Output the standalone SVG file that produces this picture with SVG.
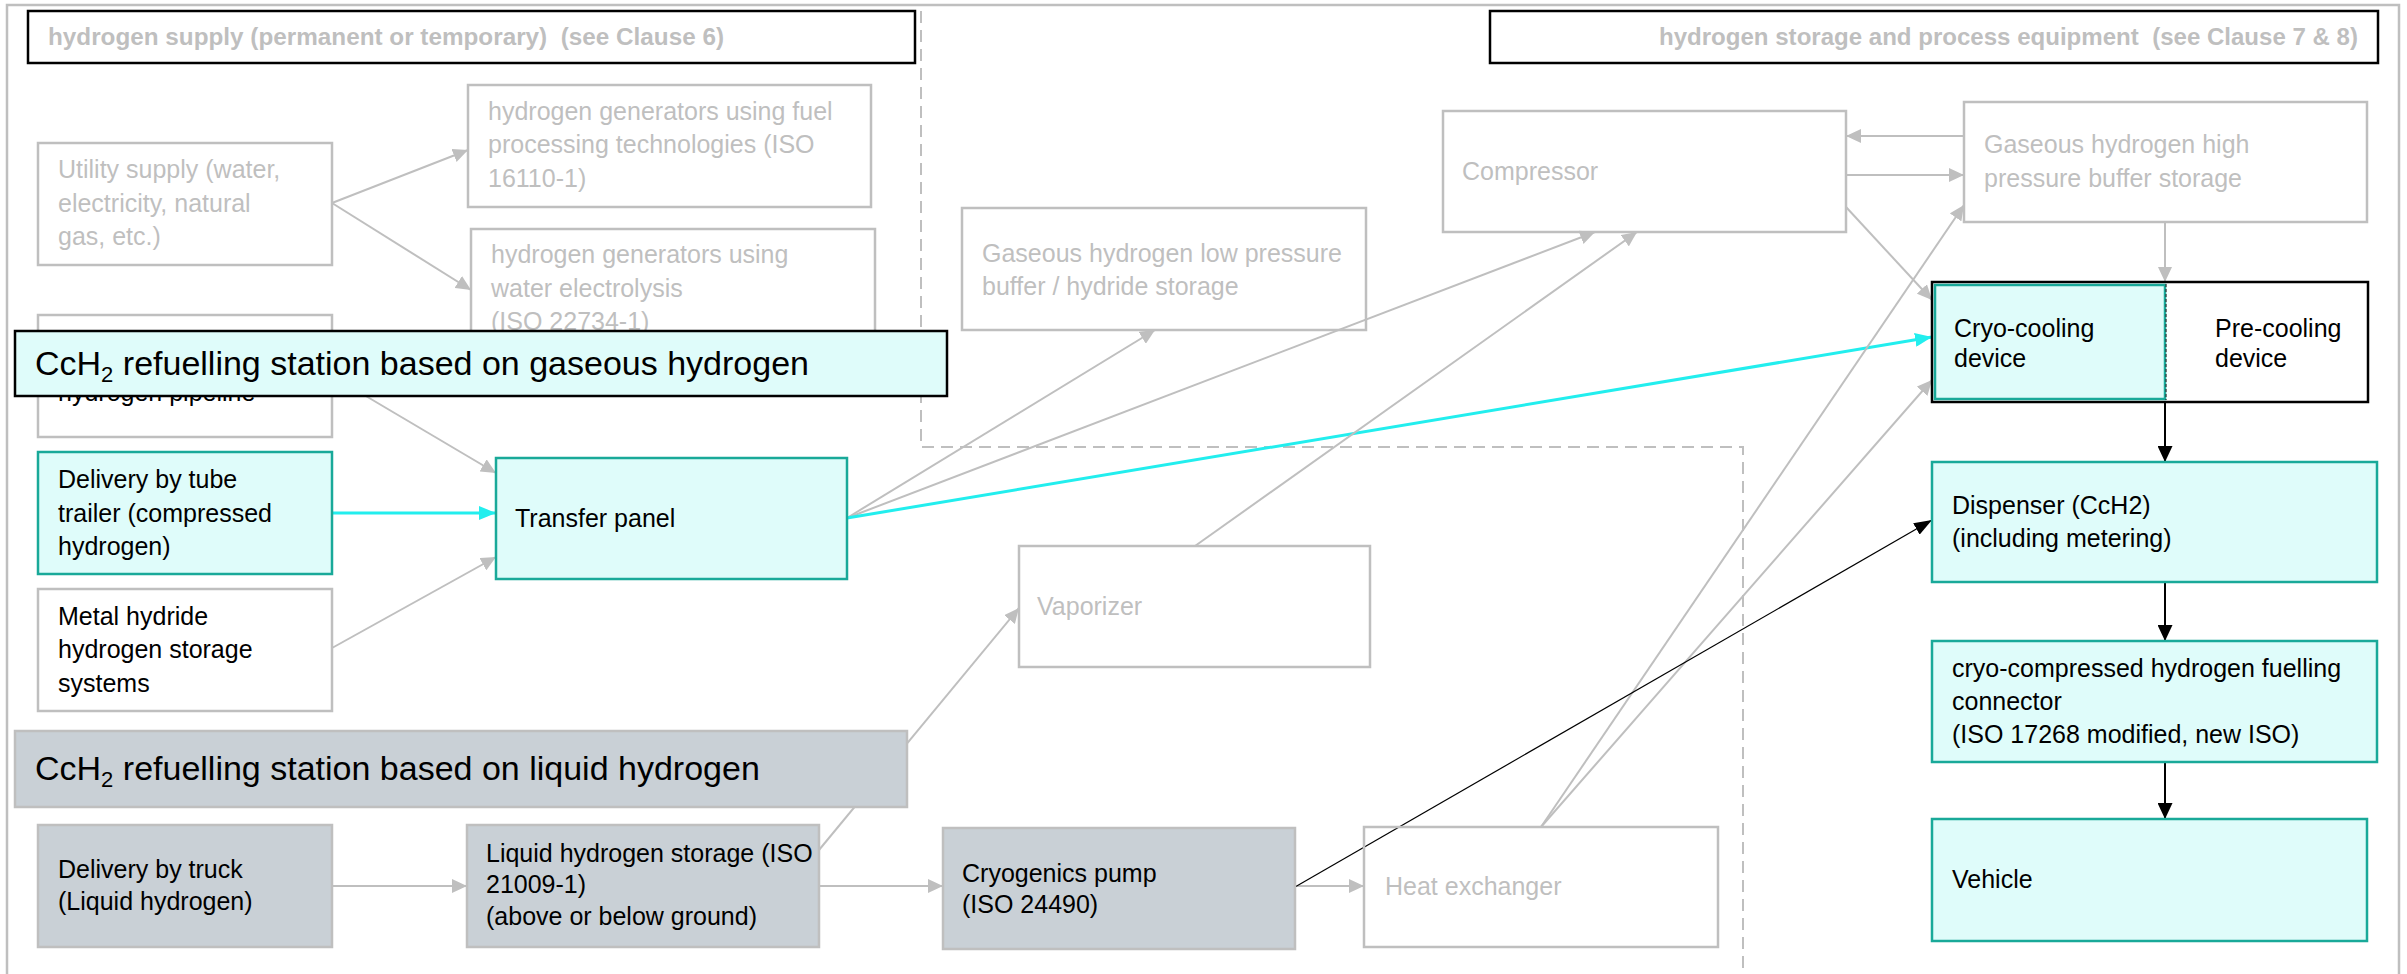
<svg xmlns="http://www.w3.org/2000/svg" width="2407" height="974" viewBox="0 0 2407 974">
<style>
text{font-family:"Liberation Sans",Arial,sans-serif;font-size:25px}
.tg{fill:#bfbfbf}
.tk{fill:#000}
.hd{font-weight:bold;font-size:23px;fill:#bfbfbf}
.bn{font-size:34px;fill:#000}
.bg{fill:none;stroke:#bfbfbf;stroke-width:2.5}
.bc{fill:#dffcfa;stroke:#19a999;stroke-width:2.5}
.bb{fill:#c9d0d6;stroke:#bfbfbf;stroke-width:2.5}
.bh{fill:#fff;stroke:#000;stroke-width:2.5}
.cg{stroke:#bfbfbf;stroke-width:2;fill:none;marker-end:url(#ag)}
.cc{stroke:#22eeee;stroke-width:3;fill:none;marker-end:url(#ac)}
.ck{stroke:#000;stroke-width:2;fill:none;marker-end:url(#ak)}
.ct{stroke:#000;stroke-width:1.2;fill:none;marker-end:url(#at)}
</style>
<defs>
<marker id="ag" markerUnits="userSpaceOnUse" markerWidth="15" markerHeight="14" refX="15" refY="7" orient="auto"><path d="M0,0 L15,7 L0,14 Z" fill="#bfbfbf"/></marker>
<marker id="ac" markerUnits="userSpaceOnUse" markerWidth="17" markerHeight="14" refX="17" refY="7" orient="auto"><path d="M0,0 L17,7 L0,14 Z" fill="#22eeee"/></marker>
<marker id="ak" markerUnits="userSpaceOnUse" markerWidth="16" markerHeight="15" refX="16" refY="7.5" orient="auto"><path d="M0,0 L16,7.5 L0,15 Z" fill="#000"/></marker>
<marker id="at" markerUnits="userSpaceOnUse" markerWidth="18" markerHeight="13" refX="18" refY="6.5" orient="auto"><path d="M0,0 L18,6.5 L0,13 Z" fill="#000"/></marker>
</defs>
<rect x="0" y="0" width="2407" height="974" fill="#fff"/>
<rect x="7" y="5" width="2392" height="1000" fill="none" stroke="#bfbfbf" stroke-width="2.5"/>
<path d="M921,11 V447 H1743 V974" fill="none" stroke="#bfbfbf" stroke-width="2" stroke-dasharray="12 7"/>

<g id="connectors">
<line class="cg" x1="332" y1="203" x2="468" y2="150"/>
<line class="cg" x1="332" y1="203" x2="471" y2="290"/>
<line class="cg" x1="332" y1="376" x2="496" y2="473"/>
<line class="cc" x1="332" y1="513" x2="496" y2="513"/>
<line class="cg" x1="332" y1="648" x2="496" y2="557"/>
<line class="cg" x1="847" y1="518" x2="1155" y2="330"/>
<line class="cg" x1="847" y1="518" x2="1595" y2="232"/>
<line class="cc" x1="847" y1="518" x2="1932" y2="337"/>
<line class="cg" x1="1195" y1="546" x2="1637" y2="232"/>
<line class="cg" x1="1964" y1="136" x2="1846" y2="136"/>
<line class="cg" x1="1846" y1="175" x2="1964" y2="175"/>
<line class="cg" x1="1846" y1="207" x2="1932" y2="300"/>
<line class="cg" x1="2165" y1="222" x2="2165" y2="282"/>
<line class="cg" x1="1541" y1="827" x2="1964" y2="205"/>
<line class="cg" x1="1541" y1="827" x2="1932" y2="380"/>
<line class="cg" x1="819" y1="850" x2="1019" y2="608"/>
<line class="cg" x1="332" y1="886" x2="467" y2="886"/>
<line class="cg" x1="819" y1="886" x2="943" y2="886"/>
<line class="cg" x1="1295" y1="886" x2="1364" y2="886"/>
<line class="ct" x1="1295" y1="887" x2="1932" y2="520"/>
<line class="ck" x1="2165" y1="402" x2="2165" y2="462"/>
<line class="ck" x1="2165" y1="582" x2="2165" y2="641"/>
<line class="ck" x1="2165" y1="762" x2="2165" y2="819"/>
</g>

<g id="header-supply">
<rect class="bh" x="28" y="11" width="887" height="52"/>
<text class="hd" x="48" y="45" textLength="676" lengthAdjust="spacingAndGlyphs" xml:space="preserve">hydrogen supply (permanent or temporary)  (see Clause 6)</text>
</g>
<g id="header-storage">
<rect class="bh" x="1490" y="11" width="888" height="52"/>
<text class="hd" x="1659" y="45" textLength="699" lengthAdjust="spacingAndGlyphs" xml:space="preserve">hydrogen storage and process equipment  (see Clause 7 &amp; 8)</text>
</g>

<g id="gen-fuel">
<rect class="bg" x="468" y="85" width="403" height="122"/>
<text class="tg" x="488" y="120">hydrogen generators using fuel</text>
<text class="tg" x="488" y="153">processing technologies (ISO</text>
<text class="tg" x="488" y="187">16110-1)</text>
</g>
<g id="utility">
<rect class="bg" x="38" y="143" width="294" height="122"/>
<text class="tg" x="58" y="178">Utility supply (water,</text>
<text class="tg" x="58" y="212">electricity, natural</text>
<text class="tg" x="58" y="245">gas, etc.)</text>
</g>
<g id="gen-electrolysis">
<rect class="bg" x="471" y="229" width="404" height="122"/>
<text class="tg" x="491" y="263">hydrogen generators using</text>
<text class="tg" x="491" y="297">water electrolysis</text>
<text class="tg" x="491" y="330">(ISO 22734-1)</text>
</g>
<g id="pipeline">
<rect class="bg" x="38" y="315" width="294" height="122"/>
<text class="tk" x="58" y="401">hydrogen pipeline</text>
</g>
<g id="banner-gaseous">
<rect x="15" y="331" width="932" height="65" fill="#dffcfa" stroke="#000" stroke-width="2.5"/>
<text class="bn" x="35" y="375">CcH<tspan font-size="22" dy="7">2</tspan><tspan dy="-7"> refuelling station based on gaseous hydrogen</tspan></text>
</g>
<g id="tube-trailer">
<rect class="bc" x="38" y="452" width="294" height="122"/>
<text class="tk" x="58" y="488">Delivery by tube</text>
<text class="tk" x="58" y="522">trailer (compressed</text>
<text class="tk" x="58" y="555">hydrogen)</text>
</g>
<g id="metal-hydride">
<rect class="bg" x="38" y="589" width="294" height="122"/>
<text class="tk" x="58" y="625">Metal hydride</text>
<text class="tk" x="58" y="658">hydrogen storage</text>
<text class="tk" x="58" y="692">systems</text>
</g>
<g id="transfer-panel">
<rect class="bc" x="496" y="458" width="351" height="121"/>
<text class="tk" x="515" y="527">Transfer panel</text>
</g>
<g id="lp-buffer">
<rect class="bg" x="962" y="208" width="404" height="122"/>
<text class="tg" x="982" y="262">Gaseous hydrogen low pressure</text>
<text class="tg" x="982" y="295">buffer / hydride storage</text>
</g>
<g id="compressor">
<rect class="bg" x="1443" y="111" width="403" height="121"/>
<text class="tg" x="1462" y="180">Compressor</text>
</g>
<g id="hp-buffer">
<rect class="bg" x="1964" y="102" width="403" height="120"/>
<text class="tg" x="1984" y="153">Gaseous hydrogen high</text>
<text class="tg" x="1984" y="187">pressure buffer storage</text>
</g>
<g id="cooling">
<rect class="bh" x="1932" y="282" width="436" height="120"/>
<rect class="bc" x="1935" y="285" width="230" height="114"/>
<line x1="2166" y1="284" x2="2166" y2="400" stroke="#333" stroke-width="1.2" stroke-dasharray="3 2"/>
<text class="tk" x="1954" y="337">Cryo-cooling</text>
<text class="tk" x="1954" y="367">device</text>
<text class="tk" x="2215" y="337">Pre-cooling</text>
<text class="tk" x="2215" y="367">device</text>
</g>
<g id="dispenser">
<rect class="bc" x="1932" y="462" width="445" height="120"/>
<text class="tk" x="1952" y="514">Dispenser (CcH2)</text>
<text class="tk" x="1952" y="547">(including metering)</text>
</g>
<g id="connector">
<rect class="bc" x="1932" y="641" width="445" height="121"/>
<text class="tk" x="1952" y="677">cryo-compressed hydrogen fuelling</text>
<text class="tk" x="1952" y="710">connector</text>
<text class="tk" x="1952" y="743">(ISO 17268 modified, new ISO)</text>
</g>
<g id="vehicle">
<rect class="bc" x="1932" y="819" width="435" height="122"/>
<text class="tk" x="1952" y="888">Vehicle</text>
</g>
<g id="vaporizer">
<rect class="bg" x="1019" y="546" width="351" height="121"/>
<text class="tg" x="1037" y="615">Vaporizer</text>
</g>
<g id="banner-liquid">
<rect x="15" y="731" width="892" height="76" fill="#c9d0d6" stroke="#bfbfbf" stroke-width="2.5"/>
<text class="bn" x="35" y="780">CcH<tspan font-size="22" dy="7">2</tspan><tspan dy="-7"> refuelling station based on liquid hydrogen</tspan></text>
</g>
<g id="truck">
<rect class="bb" x="38" y="825" width="294" height="122"/>
<text class="tk" x="58" y="878">Delivery by truck</text>
<text class="tk" x="58" y="910">(Liquid hydrogen)</text>
</g>
<g id="lh2-storage">
<rect class="bb" x="467" y="825" width="352" height="122"/>
<text class="tk" x="486" y="862">Liquid hydrogen storage (ISO</text>
<text class="tk" x="486" y="893">21009-1)</text>
<text class="tk" x="486" y="925">(above or below ground)</text>
</g>
<g id="cryo-pump">
<rect class="bb" x="943" y="828" width="352" height="121"/>
<text class="tk" x="962" y="882">Cryogenics pump</text>
<text class="tk" x="962" y="913">(ISO 24490)</text>
</g>
<g id="heat-exchanger">
<rect class="bg" x="1364" y="827" width="354" height="120"/>
<text class="tg" x="1385" y="895">Heat exchanger</text>
</g>
</svg>
